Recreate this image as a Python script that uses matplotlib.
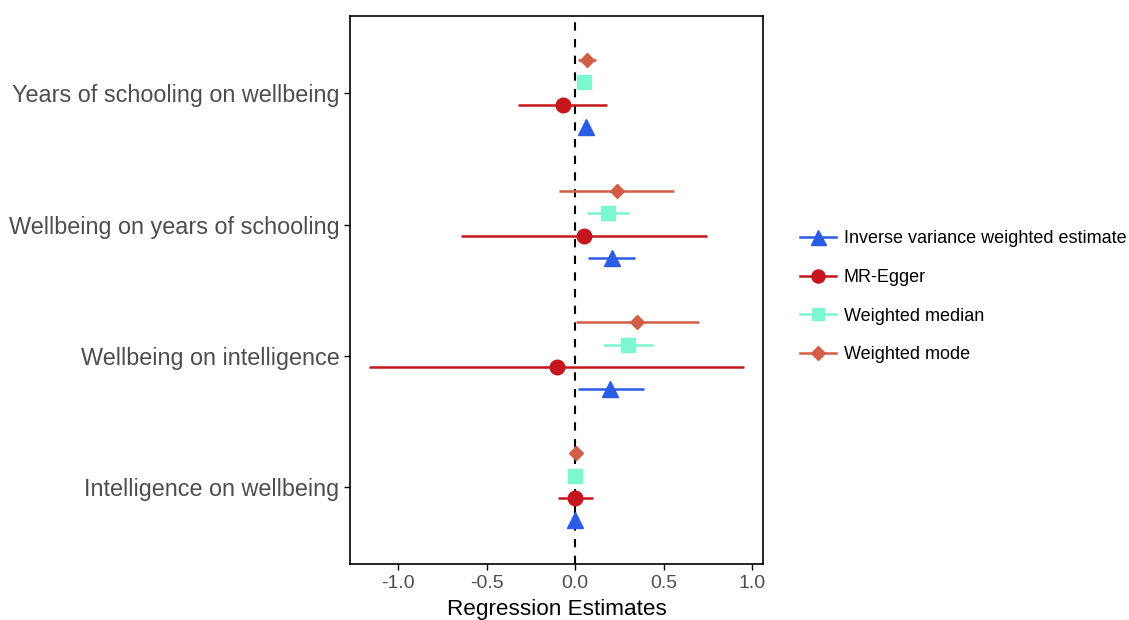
import numpy as np
import matplotlib.pyplot as plt
from matplotlib.lines import Line2D

plt.rcParams['font.family'] = ['Liberation Sans', 'DejaVu Sans']

# exposures, bottom to top
outcomes = ['Intelligence on wellbeing', 'Wellbeing on intelligence',
            'Wellbeing on years of schooling', 'Years of schooling on wellbeing']

methods = ['Inverse variance weighted estimate', 'MR-Egger',
           'Weighted median', 'Weighted mode']

# estimates per method, same order as outcomes
ivw_est = [-0.002, 0.198, 0.206, 0.059]
ivw_lo = [-0.010, 0.015, 0.074, 0.050]
ivw_hi = [0.006, 0.389, 0.338, 0.068]

egger_est = [0.000, -0.104, 0.049, -0.071]
egger_lo = [-0.096, -1.165, -0.648, -0.322]
egger_hi = [0.102, 0.956, 0.747, 0.178]

median_est = [-0.003, 0.300, 0.185, 0.049]
median_lo = [-0.010, 0.159, 0.064, 0.040]
median_hi = [0.004, 0.441, 0.305, 0.058]

mode_est = [0.002, 0.347, 0.234, 0.064]
mode_lo = [-0.006, 0.002, -0.092, 0.017]
mode_hi = [0.010, 0.700, 0.560, 0.117]

estimates = [ivw_est, egger_est, median_est, mode_est]
lows = [ivw_lo, egger_lo, median_lo, mode_lo]
highs = [ivw_hi, egger_hi, median_hi, mode_hi]

colors = ['#2B5CE6', '#C4161C', '#7DF7CF', '#D35E47']
markers = ['^', 'o', 's', 'D']
msizes = [12, 10.5, 10, 7.5]
offsets = [-0.255, -0.085, 0.085, 0.255]

fig = plt.figure(figsize=(11.29, 6.2), dpi=100)
ax = fig.add_axes([0.310, 0.090, 0.366, 0.884])

ax.axvline(0, color='black', linestyle=(0, (4, 4)), linewidth=1.5, zorder=1)

ypos = np.arange(1, len(outcomes) + 1)
for i, m in enumerate(methods):
    est = np.array(estimates[i])
    err = [est - np.array(lows[i]), np.array(highs[i]) - est]
    ax.errorbar(est, ypos + offsets[i], xerr=err, fmt=markers[i],
                color=colors[i], ecolor=colors[i], elinewidth=1.8,
                markersize=msizes[i], capsize=0, zorder=3)

ax.set_xlim(-1.274, 1.063)
ax.set_ylim(0.41, 4.59)
ax.set_xticks([-1.0, -0.5, 0.0, 0.5, 1.0])
ax.set_xticklabels(['-1.0', '-0.5', '0.0', '0.5', '1.0'])
ax.set_yticks(ypos)
ax.set_yticklabels(outcomes)
ax.tick_params(axis='y', labelsize=16.8, colors='#4D4D4D', length=4, width=1)
ax.tick_params(axis='x', labelsize=14, colors='#4D4D4D', length=4, width=1)
ax.tick_params(axis='both', color='black')
ax.set_xlabel('Regression Estimates', fontsize=16.2, color='black', labelpad=5)

for s in ax.spines.values():
    s.set_linewidth(1.2)

handles = [Line2D([0], [0], color=colors[i], marker=markers[i], lw=1.8,
                  markersize=msizes[i] * 0.9) for i in range(len(methods))]
fig.legend(handles, methods, loc='center left', bbox_to_anchor=(0.709, 0.521),
           frameon=False, fontsize=13, handlelength=1.95, labelspacing=1.2,
           handletextpad=0.45, borderpad=0, borderaxespad=0)

plt.savefig('out.png', dpi=100)
